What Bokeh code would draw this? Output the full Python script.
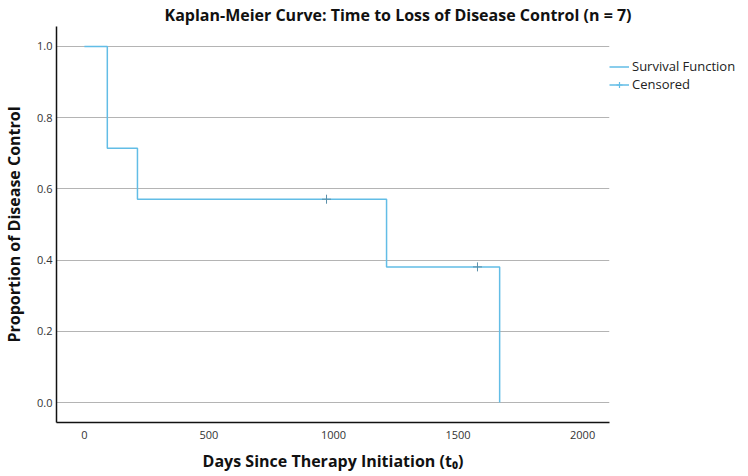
from bokeh.plotting import figure
from bokeh.models import FixedTicker, Legend, LegendItem, Title
from bokeh.embed import file_html
from bokeh.resources import INLINE

# Kaplan-Meier step values
step_days = [0, 92, 213, 1213, 1667]
step_surv = [1.0, 0.714, 0.571, 0.381, 0.0]
censor_days = [972, 1578]
censor_surv = [0.571, 0.381]
x_ticks = [0, 500, 1000, 1500, 2000]
y_ticks = [0.0, 0.2, 0.4, 0.6, 0.8, 1.0]

LINE = "#62BDE6"
FONT = "Open Sans"

p = figure(frame_width=553, frame_height=396, x_range=(-112, 2108), y_range=(-0.056, 1.056),
           output_backend="svg", toolbar_location=None,
           min_border_left=49, min_border_top=18, min_border_right=138, min_border_bottom=54)
p.outline_line_color = None
p.background_fill_color = "white"

t = Title(text="Kaplan-Meier Curve: Time to Loss of Disease Control (n = 7)",
          align="left", offset=108, standoff=2,
          text_font=FONT, text_font_size="16px", text_font_style="bold", text_color="#111111")
p.add_layout(t, "above")

step_r = p.step(step_days, step_surv, mode="after", line_color=LINE, line_width=1.5)
cens_r = p.scatter(censor_days, censor_surv, marker="cross", size=9,
                   line_color="#5a8fa8", line_width=1)
# legend-only glyphs, placed outside the visible x range
leg_line = p.line(x=[-5000, -4000], y=[0.5, 0.5], line_color=LINE, line_width=1.5)
leg_cross = p.scatter(x=[-5000], y=[0.5], marker="cross", size=14, line_color=LINE, line_width=1.2)

# axes
p.xaxis.ticker = FixedTicker(ticks=x_ticks)
p.yaxis.ticker = FixedTicker(ticks=y_ticks)
p.yaxis.major_label_overrides = {v: f"{v:.1f}" for v in y_ticks}
for ax in (p.xaxis, p.yaxis):
    ax.axis_line_color = "#111111"
    ax.axis_line_width = 1.5
    ax.major_tick_line_color = None
    ax.minor_tick_line_color = None
    ax.major_tick_out = 0
    ax.major_tick_in = 0
    ax.major_label_text_font = FONT
    ax.major_label_text_font_size = "11px"
    ax.major_label_text_color = "#333333"
    ax.axis_label_text_font = FONT
    ax.axis_label_text_font_style = "bold"
    ax.axis_label_text_color = "#111111"
p.xaxis.axis_label = "Days Since Therapy Initiation (t\u2080)"
p.yaxis.axis_label = "Proportion of Disease Control"
p.xaxis.axis_label_text_font_size = "16px"
p.yaxis.axis_label_text_font_size = "16px"
p.xaxis.major_label_standoff = 8
p.xaxis.axis_label_standoff = 8
p.yaxis.major_label_standoff = 4
p.yaxis.axis_label_standoff = 9

p.xgrid.grid_line_color = None
p.ygrid.grid_line_color = "#b4b4b4"
p.ygrid.grid_line_width = 1

legend = Legend(items=[
    LegendItem(label="Survival Function", renderers=[step_r]),
    LegendItem(label="Censored", renderers=[leg_line, leg_cross]),
], location="top_left")
legend.title = " "
legend.title_text_font_size = "12px"
legend.title_standoff = 17
legend.glyph_width = 20
legend.glyph_height = 15
legend.label_height = 15
legend.spacing = 0
legend.padding = 0
legend.margin = 0
legend.label_standoff = 3
legend.border_line_color = None
legend.background_fill_alpha = 0
legend.label_text_font = FONT
legend.label_text_font_size = "13px"
legend.label_text_color = "#222222"
p.add_layout(legend, "right")

open("out.html", "w").write(file_html(p, INLINE))
